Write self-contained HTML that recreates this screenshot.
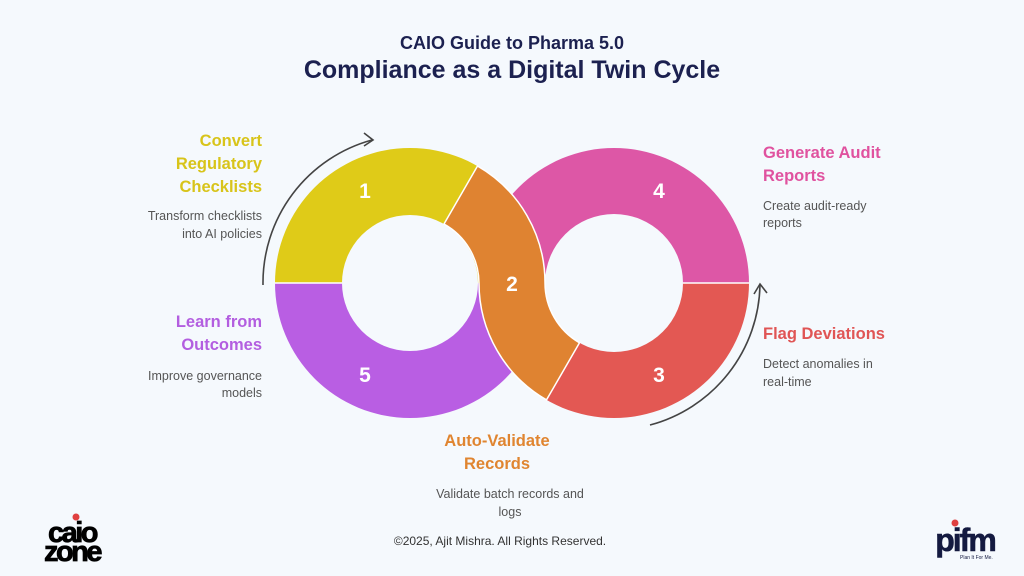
<!DOCTYPE html>
<html><head><meta charset="utf-8"><style>
body{margin:0;width:1024px;height:576px;background:#f5f9fd;overflow:hidden;font-family:"Liberation Sans",sans-serif;}
svg{position:absolute;left:0;top:0}
</style></head><body>
<svg width="1024" height="576" viewBox="0 0 1024 576">
<rect width="1024" height="576" fill="#f5f9fd"/>
<g font-family="Liberation Sans, sans-serif" text-anchor="middle" fill="#1c2150" font-weight="bold">
<text x="512" y="49" font-size="18">CAIO Guide to Pharma 5.0</text>
<text x="512" y="78" font-size="25">Compliance as a Digital Twin Cycle</text>
</g>
<path d="M275,283 A135,135 0 0 1 545,283 L478,283 A68,68 0 0 0 342,283 Z" fill="#dfcb18"/>
<path d="M275,283 A135,135 0 0 0 545,283 L478,283 A68,68 0 0 1 342,283 Z" fill="#b95ee3"/>
<path d="M479,283 A135,135 0 0 1 749,283 L683,283 A69,69 0 0 0 545,283 Z" fill="#dd57a6"/>
<path d="M479,283 A135,135 0 0 0 749,283 L683,283 A69,69 0 0 1 545,283 Z" fill="#e35853"/>
<line x1="275" y1="283" x2="342" y2="283" stroke="#fff" stroke-width="1.5"/>
<line x1="683" y1="283" x2="749" y2="283" stroke="#fff" stroke-width="1.5"/>
<path d="M444,224 L477.5,166 A135,135 0 0 1 545,283 A69,69 0 0 0 579.5,342.8 L546.5,399.9 A135,135 0 0 1 479,283 A68,68 0 0 0 444,224 Z" fill="#df8331" stroke="#fff" stroke-width="1.5"/>
<g fill="#fff" font-weight="bold" font-size="21" text-anchor="middle">
<text x="365" y="198">1</text><text x="659" y="198">4</text><text x="512" y="291">2</text>
<text x="365" y="382">5</text><text x="659" y="382">3</text>
</g>
<path d="M263,285 A148,148 0 0 1 372,140" fill="none" stroke="#444" stroke-width="1.6"/>
<path d="M364,133 L373,140 L364,146" fill="none" stroke="#444" stroke-width="1.6"/>
<path d="M650,425 A148,148 0 0 0 760,285" fill="none" stroke="#444" stroke-width="1.6"/>
<path d="M754,294 L760,284 L767,293" fill="none" stroke="#444" stroke-width="1.6"/>
<g font-weight="bold" font-size="16.5">
<g fill="#d8c41a" text-anchor="end"><text x="262" y="146">Convert</text><text x="262" y="169">Regulatory</text><text x="262" y="192">Checklists</text></g>
<g fill="#b35ee0" text-anchor="end"><text x="262" y="327">Learn from</text><text x="262" y="350">Outcomes</text></g>
<g fill="#e0529f"><text x="763" y="158">Generate Audit</text><text x="763" y="181">Reports</text></g>
<g fill="#e05555"><text x="763" y="339">Flag Deviations</text></g>
<g fill="#e08530" text-anchor="middle"><text x="497" y="446">Auto-Validate</text><text x="497" y="469">Records</text></g>
</g>
<g fill="#555" font-size="12.5">
<g text-anchor="end"><text x="262" y="220">Transform checklists</text><text x="262" y="238">into AI policies</text>
<text x="262" y="380">Improve governance</text><text x="262" y="397">models</text></g>
<text x="763" y="210">Create audit-ready</text><text x="763" y="227">reports</text>
<text x="763" y="368">Detect anomalies in</text><text x="763" y="386">real-time</text>
<g text-anchor="middle"><text x="510" y="498">Validate batch records and</text><text x="510" y="516">logs</text></g>
</g>
<text x="500" y="545" text-anchor="middle" font-size="12" fill="#333">©2025, Ajit Mishra. All Rights Reserved.</text>
<circle cx="76" cy="517" r="3.5" fill="#e04040"/>
<g font-weight="bold" fill="#000" font-size="29" letter-spacing="-2.5" text-anchor="middle" stroke="#000" stroke-width="0.8">
<text x="72" y="542">caio</text><text x="72" y="561">zone</text>
</g>
<circle cx="955" cy="523" r="3.5" fill="#e04040"/>
<text x="965" y="551" text-anchor="middle" font-weight="bold" font-size="32" fill="#141a40" letter-spacing="-2" stroke="#141a40" stroke-width="0.6">pifm</text>
<text x="960" y="559" font-size="5" fill="#141a40">Plan It For Me.</text>
</svg>
</body></html>
